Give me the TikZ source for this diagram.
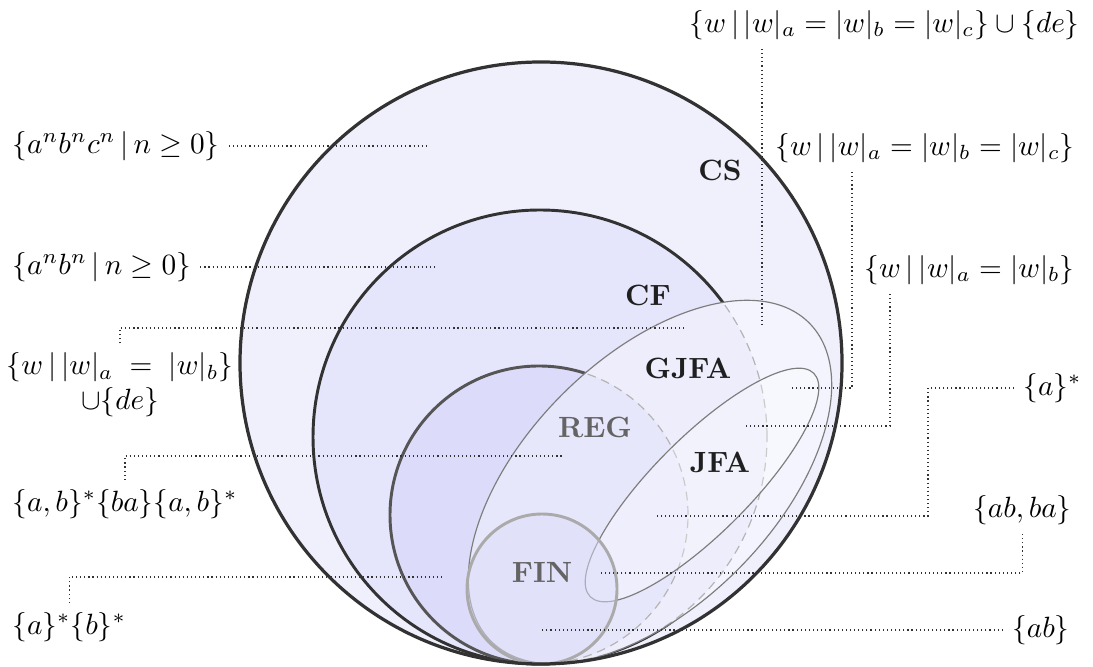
\documentclass[tikz,border=0pt]{standalone}
\usepackage{xcolor}
\usepackage{tikz}
\definecolor{csfill}{RGB}{240, 240, 253}
\definecolor{cffill}{RGB}{229, 229, 251}
\definecolor{regfill}{RGB}{220, 220, 250}
\definecolor{csin}{RGB}{244, 244, 254}
\definecolor{cfin}{RGB}{237, 237, 252}
\definecolor{regin}{RGB}{231, 231, 251}
\definecolor{rimdark}{RGB}{50, 50, 50}
\definecolor{rimreg}{RGB}{85, 85, 85}
\definecolor{rimfin}{RGB}{170, 170, 170}
\definecolor{rimthin}{RGB}{125, 125, 125}
\definecolor{rimdash}{RGB}{180, 180, 180}
\definecolor{classgray}{RGB}{100, 100, 100}

\begin{document}
\begin{tikzpicture}[
    x=0.012cm, y=0.012cm,
    lang/.style={inner sep=3pt},
    cls/.style={font=\bfseries, text=black!88},
    clsgray/.style={font=\bfseries, text=classgray},
    lead/.style={densely dotted, line width=0.4pt, draw=black!80},
    rim/.style={line width=1pt, draw=rimdark},
    thinrim/.style={line width=0.4pt, draw=rimthin},
    hidden/.style={dash pattern=on 3pt off 2pt, line width=0.4pt, draw=rimdash}
]
  \useasboundingbox (0,0) rectangle (1093,666);

  % Nested classes
  \fill[csfill] (541,303) circle[radius=301];
  \fill[cffill] (540,229) circle[radius=227];
  \fill[regfill] (539,151) circle[radius=149];
  \draw[rim] (540,229) circle[radius=227];
  \draw[rim, draw=rimreg] (539,151) circle[radius=149];

  % GJFA covers part of CF and REG
  \begin{scope}
    \clip[shift={(650,184)}, rotate=45] (0,0) ellipse[x radius=225, y radius=124];
    \fill[csin] (0,0) rectangle (1093,666);
    \fill[cfin] (540,229) circle[radius=227];
    \fill[regin] (539,151) circle[radius=149];
    \draw[hidden] (540,229) circle[radius=227];
    \draw[hidden] (539,151) circle[radius=149];
  \end{scope}
  \draw[thinrim, shift={(650,184)}, rotate=45] (0,0) ellipse[x radius=225, y radius=124];
  \draw[thinrim, fill=white, fill opacity=0.3, shift={(702,181)}, rotate=45]
    (0,0) ellipse[x radius=158, y radius=48];
  \draw[line width=1pt, draw=rimfin, fill=regfill, fill opacity=0.5] (542,77) circle[radius=75];
  \draw[rim, line width=1.1pt] (541,303) circle[radius=301];

  % Class names
  \node[cls] (cs) at (720,496) {CS};
  \node[cls] (cf) at (648,371) {CF};
  \node[cls] (gjfa) at (688,298) {GJFA};
  \node[clsgray] (reg) at (595,239) {REG};
  \node[cls] (jfa) at (720,204) {JFA};
  \node[clsgray] (fin) at (542,94) {FIN};

  % Languages, left
  \node[lang, anchor=west] (l1) at (3,520) {$\{a^nb^nc^n \,|\, n \geq 0\}$};
  \node[lang, anchor=west] (l2) at (3,399) {$\{a^nb^n \,|\, n \geq 0\}$};
  \node[lang, align=center] (l3) at (120,281) {$\{w \,|\, |w|_a \;=\; |w|_b\}$\\$\cup\{de\}$};
  \node[lang, anchor=west] (l4) at (3,162) {$\{a,b\}^*\{ba\}\{a,b\}^*$};
  \node[lang, anchor=west] (l5) at (3,39) {$\{a\}^*\{b\}^*$};

  % Languages, right
  \node[lang, anchor=east] (l6) at (1089,641) {$\{w \,|\, |w|_a = |w|_b = |w|_c\} \cup \{de\}$};
  \node[lang, anchor=east] (l7) at (1084,518) {$\{w \,|\, |w|_a = |w|_b = |w|_c\}$};
  \node[lang, anchor=east] (l8) at (1084,396) {$\{w \,|\, |w|_a = |w|_b\}$};
  \node[lang, anchor=east] (l9) at (1091,278) {$\{a\}^*$};
  \node[lang, anchor=east] (l10) at (1081,156) {$\{ab, ba\}$};
  \node[lang, anchor=east] (l11) at (1079,36) {$\{ab\}$};

  % Where the leaders end
  \coordinate (c1) at (428,520);
  \coordinate (c2) at (437,399);
  \coordinate (c3) at (686,338);
  \coordinate (c4) at (563,210);
  \coordinate (c5) at (443,89);
  \coordinate (c6) at (762,338);
  \coordinate (b7) at (852,278);
  \coordinate (c7) at (792,278);
  \coordinate (b8) at (890,240);
  \coordinate (c8) at (746,240);
  \coordinate (b9) at (928,150);
  \coordinate (c9) at (655,150);
  \coordinate (c10) at (598,93);
  \coordinate (c11) at (542,36);

  % Leaders
  \draw[lead] (l1.east) -- (c1);
  \draw[lead] (l2.east) -- (c2);
  \draw[lead] (l3.north) |- (c3);
  \draw[lead] (l4.north) |- (c4);
  \draw[lead] (l5.north) |- (c5);
  \draw[lead] (l6.south -| c6) -- (c6);
  \draw[lead] (l7.south -| b7) -- (b7) -- (c7);
  \draw[lead] (l8.south -| b8) -- (b8) -- (c8);
  \draw[lead] (l9.west) -| (b9) -- (c9);
  \draw[lead] (l10.south) |- (c10);
  \draw[lead] (l11.west) -- (c11);
\end{tikzpicture}
\end{document}
